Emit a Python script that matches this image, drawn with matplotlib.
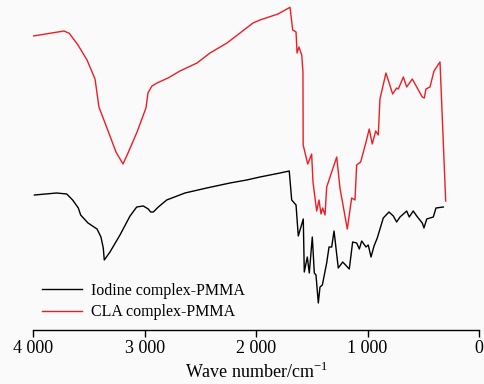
import matplotlib
matplotlib.use("Agg")
import matplotlib.pyplot as plt

plt.rcParams['font.family'] = ['Liberation Serif', 'DejaVu Serif']
plt.rcParams['axes.unicode_minus'] = False
plt.rcParams['mathtext.fontset'] = 'custom'
plt.rcParams['mathtext.rm'] = 'Liberation Serif'

# CLA complex-PMMA (red)
cla_wn = [4000, 3725, 3677, 3599, 3518, 3446, 3411, 3339, 3258, 3195, 3150, 3069, 2989, 2971,
          2935, 2890, 2791, 2684, 2531, 2414, 2262, 2145, 2028, 1966, 1804, 1696, 1672, 1642,
          1633, 1616, 1591, 1580, 1578, 1537, 1502, 1490, 1457, 1436, 1418, 1403, 1382, 1367,
          1322, 1277, 1248, 1182, 1143, 1113, 1098, 1062, 1014, 985, 958, 927, 904, 889, 835,
          775, 739, 724, 679, 649, 599, 509, 491, 476, 440, 404, 350, 299]
cla_t = [294, 299, 296.7, 285, 270, 251, 223, 202, 178, 166, 177, 198, 222, 237,
         244, 247, 252, 259, 267, 277, 287, 297, 307, 310, 316, 322.7, 300, 298,
         277, 283, 275, 258, 185, 166, 176, 148, 119, 130, 116, 122, 115, 143,
         158, 173, 142, 101, 132, 130, 165, 168, 188, 201, 186, 199, 195, 231, 257,
         236, 242, 241, 253, 243, 251, 233, 232, 241, 243, 259, 268, 129]

# Iodine complex-PMMA (black)
iod_wn = [3990, 3790, 3700, 3647, 3596, 3575, 3509, 3428, 3393, 3372, 3363, 3312, 3222, 3132,
          3072, 3013, 2968, 2947, 2923, 2878, 2803, 2639, 2444, 2235, 2085, 1966, 1786, 1703,
          1681, 1642, 1622, 1577, 1568, 1541, 1523, 1496, 1478, 1463, 1442, 1427, 1406, 1367,
          1346, 1322, 1301, 1263, 1223, 1164, 1134, 1098, 1074, 1053, 1014, 994, 969, 942, 913,
          859, 808, 769, 739, 709, 649, 626, 590, 559, 509, 494, 469, 410, 386, 320]
iod_t = [135, 137, 136, 130, 122, 115, 107, 101, 93, 82, 70, 78, 95, 114,
         123, 124, 121, 118, 118, 123, 130, 137, 142, 147, 150, 153, 157, 159,
         130, 125, 94, 111, 58, 73, 57, 93, 57, 55, 27, 43, 45, 67,
         83, 83, 99, 62, 68, 61, 88, 87, 81, 89, 83, 85, 73, 84, 92,
         112, 118, 114, 108, 113, 119, 113, 119, 114, 107, 102, 111, 113, 122, 123]

xticks = [4000, 3000, 2000, 1000, 0]
xtick_labels = ["4 000", "3 000", "2 000", "1 000", "0"]

fig = plt.figure(figsize=(4.85, 3.84), dpi=100, facecolor='#fafafa')
ax = fig.add_axes([33.3/485, 1 - 330/384, (479 - 33.3)/485, 330/384])
ax.set_facecolor('#fafafa')

ax.plot(iod_wn, iod_t, color='black', lw=1.0, label='Iodine complex-PMMA')
ax.plot(cla_wn, cla_t, color='#ee1c25', lw=1.0, label='CLA complex-PMMA')

ax.set_xlim(4000, 0)
ax.set_ylim(0, 330)
for s in ['top', 'left', 'right']:
    ax.spines[s].set_visible(False)
ax.spines['bottom'].set_linewidth(1.0)
ax.set_yticks([])
ax.set_xticks(xticks)
ax.set_xticklabels(xtick_labels, fontsize=13)
ax.tick_params(axis='x', direction='out', length=5, width=1.0, pad=2)
ax.set_xlabel('Wave number/cm$^{\\mathregular{-1}}$', fontsize=13, labelpad=4)

leg = ax.legend(loc='lower left', bbox_to_anchor=(0.0711, 1 - 330/384 + 0.004), frameon=False,
                fontsize=11.5, handlelength=2.5, handletextpad=0.55, labelspacing=0.35,
                borderaxespad=0.1, bbox_transform=fig.transFigure)

fig.savefig('out.png', dpi=100, facecolor='#fafafa')
